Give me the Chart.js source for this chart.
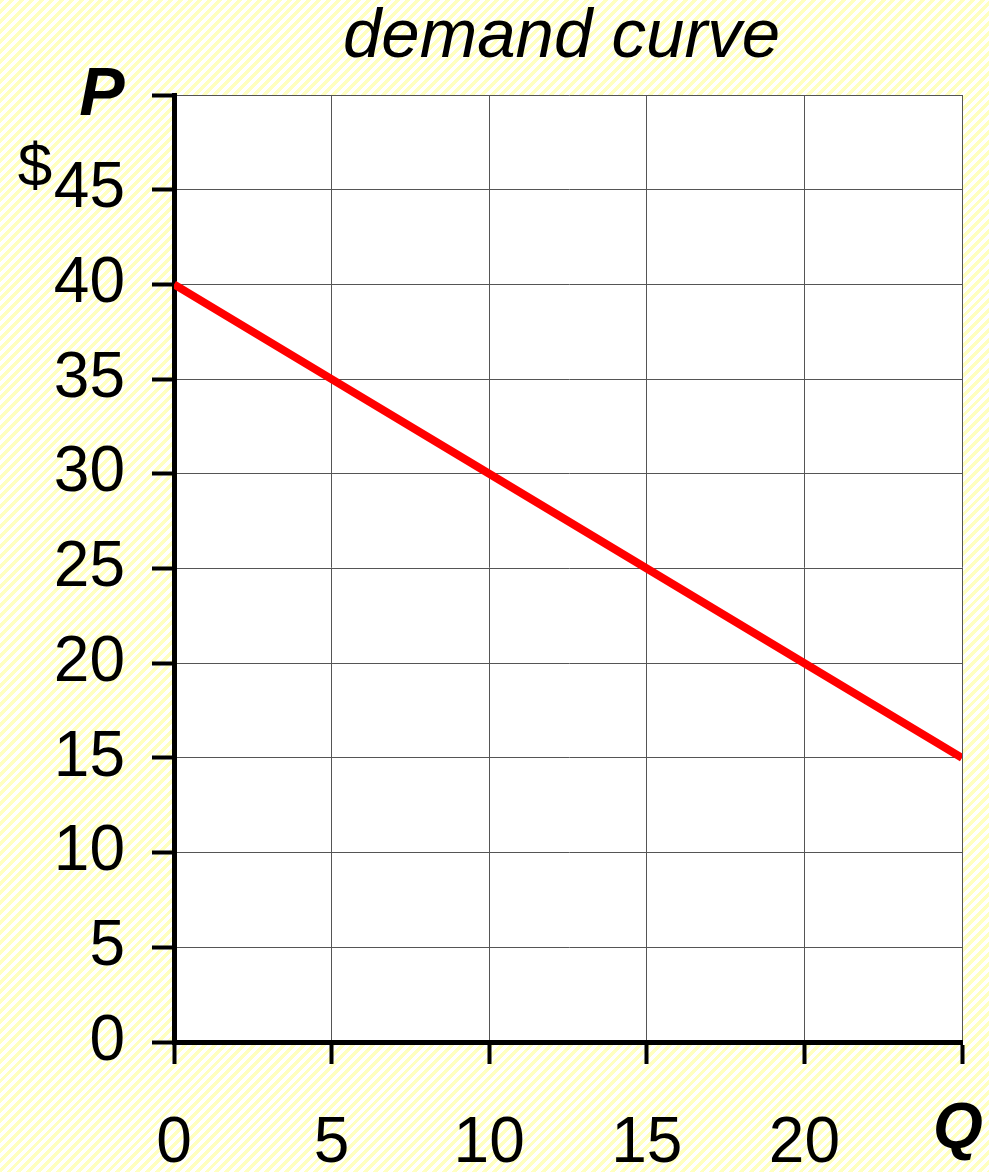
<!DOCTYPE html>
<html>
<head>
<meta charset="utf-8">
<script src="https://cdn.jsdelivr.net/npm/chart.js@4/dist/chart.umd.min.js"></script>
<style>
  html, body {
    margin: 0;
    padding: 0;
    width: 989px;
    height: 1172px;
    overflow: hidden;
    background: repeating-linear-gradient(135deg, #ffffc0 0px, #ffffc0 3.5px, #ffffff 3.5px, #ffffff 7px);
  }
  #wrap {
    position: relative;
    width: 989px;
    height: 1172px;
  }
</style>
</head>
<body>
<div id="wrap"><canvas id="chart" width="989" height="1172"></canvas></div>
<script>
// demand curve: quantity vs price
const quantities = [0, 5, 10, 15, 20, 25];
const prices = [40, 35, 30, 25, 20, 15];

const xTickLabels = ['0', '5', '10', '15', '20', ''];
const yTickLabels = ['0', '5', '10', '15', '20', '25', '30', '35', '40', '45', ''];

const titleText = 'demand curve';
const yAxisTitle = 'P';
const yAxisUnit = '$';
const xAxisTitle = 'Q';

const FONT = '"Liberation Sans", Arial, sans-serif';

const plotBackground = {
  id: 'plotBackground',
  beforeDraw(chart) {
    const { ctx, chartArea } = chart;
    ctx.save();
    ctx.fillStyle = '#ffffff';
    ctx.fillRect(chartArea.left, chartArea.top, chartArea.right - chartArea.left, chartArea.bottom - chartArea.top);
    ctx.restore();
  }
};

const annotations = {
  id: 'annotations',
  afterDraw(chart) {
    const { ctx } = chart;
    ctx.save();
    ctx.fillStyle = '#000';
    ctx.textBaseline = 'alphabetic';

    ctx.font = 'italic 69px ' + FONT;
    ctx.textAlign = 'left';
    ctx.fillText(titleText, 343, 57);

    ctx.font = 'italic bold 68px ' + FONT;
    ctx.textAlign = 'center';
    ctx.fillText(yAxisTitle, 102, 115);

    ctx.font = '62px ' + FONT;
    ctx.fillText(yAxisUnit, 35, 186);

    ctx.font = 'italic bold 64px ' + FONT;
    ctx.fillText(xAxisTitle, 958, 1148);
    ctx.restore();
  }
};

new Chart(document.getElementById('chart'), {
  type: 'line',
  data: {
    datasets: [
      {
        data: quantities.map((q, i) => ({ x: q, y: prices[i] })),
        borderColor: '#ff0000',
        borderWidth: 8,
        pointRadius: 0,
        tension: 0,
        fill: false
      }
    ]
  },
  options: {
    responsive: false,
    animation: false,
    layout: {
      padding: { top: 95, right: 27, left: 0, bottom: 0 }
    },
    plugins: {
      legend: { display: false },
      tooltip: { enabled: false },
      title: { display: false }
    },
    scales: {
      x: {
        type: 'linear',
        min: 0,
        max: 25,
        afterFit(scale) {
          scale.height = 130;
          scale.paddingLeft = 0;
          scale.paddingRight = 0;
        },
        border: { display: true, color: '#000', width: 5 },
        grid: {
          color: '#555',
          lineWidth: 1,
          drawTicks: true,
          tickLength: 22,
          tickWidth: 4,
          tickColor: '#000'
        },
        ticks: {
          stepSize: 5,
          autoSkip: false,
          maxRotation: 0,
          padding: 42,
          color: '#000',
          font: { family: FONT, size: 64 },
          callback: (v, i) => xTickLabels[i]
        }
      },
      y: {
        type: 'linear',
        min: 0,
        max: 50,
        afterFit(scale) {
          scale.width = 174;
        },
        border: { display: true, color: '#000', width: 5 },
        grid: {
          color: '#555',
          lineWidth: 1,
          drawTicks: true,
          tickLength: 22,
          tickWidth: 4,
          tickColor: '#000'
        },
        ticks: {
          stepSize: 5,
          autoSkip: false,
          padding: 27,
          color: '#000',
          font: { family: FONT, size: 64 },
          callback: (v, i) => yTickLabels[i]
        }
      }
    }
  },
  plugins: [plotBackground, annotations]
});
</script>
</body>
</html>
